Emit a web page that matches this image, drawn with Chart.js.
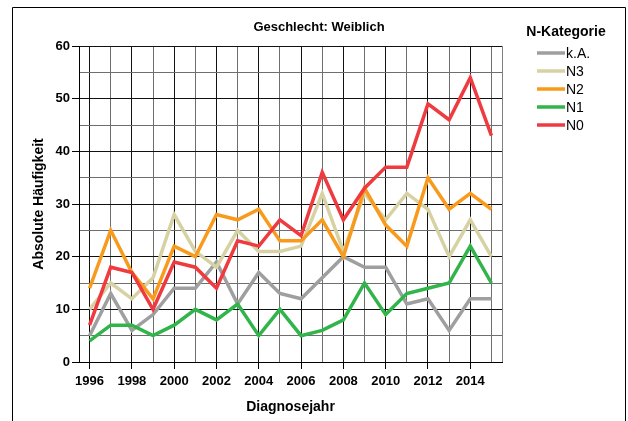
<!DOCTYPE html>
<html>
<head>
<meta charset="utf-8">
<script src="https://cdn.jsdelivr.net/npm/chart.js@4.4.1/dist/chart.umd.min.js"></script>
<style>
  html, body { margin: 0; padding: 0; background: #fff; }
  #wrap { width: 628px; height: 421px; }
</style>
</head>
<body>
<div id="wrap"><canvas id="chart" width="628" height="421"></canvas></div>
<script>
// Diagnosejahr
const years = ['1996','1997','1998','1999','2000','2001','2002','2003','2004','2005',
               '2006','2007','2008','2009','2010','2011','2012','2013','2014','2015'];
// Absolute Häufigkeit je N-Kategorie
const kA = [5, 13, 6, 9, 14, 14, 19, 11, 17, 13, 12, 16, 20, 18, 18, 11, 12, 6, 12, 12];
const n3 = [10, 15, 12, 16, 28, 21, 18, 25, 21, 21, 22, 32, 21, 32, 27, 32, 29, 20, 27, 20];
const n2 = [14, 25, 17, 12, 22, 20, 28, 27, 29, 23, 23, 27, 20, 33, 26, 22, 35, 29, 32, 29];
const n1 = [4, 7, 7, 5, 7, 10, 8, 11, 5, 10, 5, 6, 8, 15, 9, 13, 14, 15, 22, 15];
const n0 = [7, 18, 17, 10, 19, 18, 14, 23, 22, 27, 24, 36, 27, 33, 37, 37, 49, 46, 54, 43];

const chartTitle = 'Geschlecht: Weiblich';
const legendTitle = 'N-Kategorie';
const FONT = '"Liberation Sans", Arial, sans-serif';

function line(label, data, color, order) {
  return {
    label: label,
    data: data,
    borderColor: color,
    backgroundColor: color,
    borderWidth: 3.5,
    pointRadius: 0,
    tension: 0,
    fill: false,
    order: order   // N0 liegt oben
  };
}

// Rahmen, Titel und Legende
const decor = {
  id: 'decor',
  afterDraw(chart) {
    const ctx = chart.ctx;
    const a = chart.chartArea;
    ctx.save();
    // rechter Rand der Zeichenfläche
    ctx.strokeStyle = '#808080';
    ctx.lineWidth = 1;
    ctx.beginPath();
    ctx.moveTo(Math.round(a.right) + 0.5, a.top);
    ctx.lineTo(Math.round(a.right) + 0.5, a.bottom);
    ctx.stroke();
    // äußerer Rahmen
    ctx.strokeStyle = '#000';
    ctx.beginPath();
    ctx.moveTo(12.5, 421);
    ctx.lineTo(12.5, 7.5);
    ctx.lineTo(625.5, 7.5);
    ctx.lineTo(625.5, 421);
    ctx.stroke();
    // Titel
    ctx.fillStyle = '#000';
    ctx.textAlign = 'center';
    ctx.textBaseline = 'middle';
    ctx.font = 'bold 13px ' + FONT;
    ctx.fillText(chartTitle, 319, 27);
    // Legende
    ctx.font = 'bold 14px ' + FONT;
    ctx.fillText(legendTitle, 566, 32);
    ctx.textAlign = 'left';
    ctx.font = '14px ' + FONT;
    chart.data.datasets.forEach((ds, i) => {
      const y = 53 + i * 18;
      ctx.strokeStyle = ds.borderColor;
      ctx.lineWidth = 3.5;
      ctx.beginPath();
      ctx.moveTo(537, y);
      ctx.lineTo(565, y);
      ctx.stroke();
      ctx.fillStyle = '#000';
      ctx.fillText(ds.label, 566, y + 1);
    });
    ctx.restore();
  }
};

new Chart(document.getElementById('chart'), {
  type: 'line',
  data: {
    labels: years,
    datasets: [
      line('k.A.', kA, '#9f9f9f', 5),
      line('N3', n3, '#d7d2a4', 4),
      line('N2', n2, '#f89a1c', 3),
      line('N1', n1, '#31b54a', 2),
      line('N0', n0, '#ef3b40', 1)
    ]
  },
  options: {
    responsive: false,
    animation: false,
    layout: { padding: { top: 46, right: 126, left: 0, bottom: 0 } },
    plugins: {
      legend: { display: false },
      tooltip: { enabled: false }
    },
    scales: {
      x: {
        type: 'category',
        offset: true,
        grid: {
          offset: false,
          color: c => (c.index % 2 === 0 ? '#111' : '#6e6e6e'),
          tickColor: c => (c.index % 2 === 0 ? '#000' : 'rgba(0,0,0,0)'),
          tickLength: 7
        },
        border: { color: '#000' },
        ticks: {
          autoSkip: false,
          maxRotation: 0,
          padding: 5,
          color: '#000',
          font: { family: FONT, size: 13, weight: 'bold' },
          callback: function (val, i) { return i % 2 === 0 ? this.getLabelForValue(val) : ''; }
        },
        title: {
          display: true,
          text: 'Diagnosejahr',
          color: '#000',
          font: { family: FONT, size: 14, weight: 'bold' },
          padding: { top: 0, bottom: 5 }
        },
        afterFit(scale) { scale.height = 59; }
      },
      y: {
        min: 0,
        max: 60,
        grid: {
          color: c => (c.tick && c.tick.value % 10 === 0 ? '#111' : '#6e6e6e'),
          tickColor: c => (c.tick && c.tick.value % 10 === 0 ? '#000' : 'rgba(0,0,0,0)'),
          tickLength: 7
        },
        border: { color: '#000' },
        ticks: {
          stepSize: 5,
          padding: 2,
          color: '#000',
          font: { family: FONT, size: 13, weight: 'bold' },
          callback: v => (v % 10 === 0 ? v : '')
        },
        title: {
          display: true,
          text: 'Absolute Häufigkeit',
          color: '#000',
          font: { family: FONT, size: 14, weight: 'bold' },
          padding: { top: 31, bottom: 0 }
        },
        afterFit(scale) { scale.width = 79; }
      }
    }
  },
  plugins: [decor]
});
</script>
</body>
</html>
